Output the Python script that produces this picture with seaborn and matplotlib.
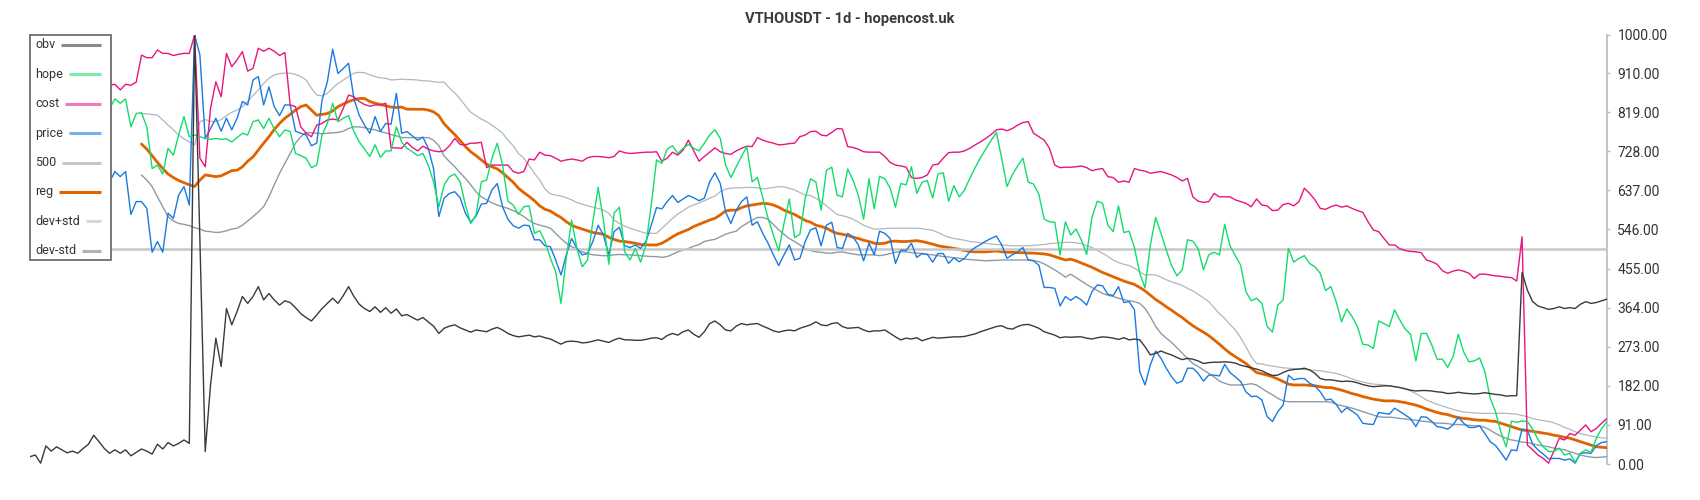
import matplotlib
matplotlib.use("Agg")
import matplotlib.pyplot as plt
import seaborn as sns
import pandas as pd
from matplotlib.lines import Line2D
from matplotlib.patches import Rectangle

sns.set_style("white")
plt.rcParams['font.family'] = ['Roboto', 'DejaVu Sans']

title = "VTHOUSDT - 1d - hopencost.uk"
yticks = [0, 91, 182, 273, 364, 455, 546, 637, 728, 819, 910, 1000]
level_500 = 500

# daily values, obv from day 0, hope/cost/price from day 15, reg/bands from day 21
obv_start = 0
line_start = 15
band_start = 21

obv = [
    17, 21, 2, 42, 30, 40, 33, 26, 30, 25, 36, 46, 67, 52, 36, 25, 33, 25, 33, 19,
    27, 35, 30, 23, 46, 35, 50, 42, 48, 56, 48, 1000, 520, 29, 184, 293, 227, 362, 324, 355,
    390, 374, 390, 413, 382, 397, 382, 370, 380,
    376, 364, 350, 341, 333, 347, 362, 374, 386, 374, 392, 413, 390, 372, 362, 355, 366, 353, 364, 351,
    361, 345, 348, 341, 335, 341, 331, 321, 304, 316, 321, 324, 317, 312, 307, 312, 310, 308, 314, 318,
    312, 304, 299, 296, 298, 300, 296, 298, 294,
    291, 285, 279, 285, 286, 285, 282, 283, 286, 289, 286, 283, 289, 293, 289, 289, 288, 288, 290, 293,
    294, 290, 299, 304, 300, 308, 312, 302, 295, 308, 327, 333, 324, 312, 310, 321, 327, 324, 326, 327,
    321, 316, 310, 307, 310, 312, 310, 316, 320,
    324, 331, 324, 322, 327, 329, 320, 316, 317, 318, 312, 308, 310, 310, 312, 304, 296, 289, 293, 291,
    294, 287, 291, 295, 293, 294, 295, 296, 296, 297, 300, 303, 308, 312, 316, 320, 322, 316, 314, 320,
    324, 325, 321, 316, 308, 304, 300, 294, 296,
    295, 296, 296, 293, 291, 294, 296, 295, 293, 290, 294, 289, 291, 289, 273, 254, 258, 263, 258, 254,
    248, 243, 246, 244, 240, 234, 236, 237, 237, 238, 237, 235, 230, 227, 224, 221, 217, 211, 206, 207,
    213, 218, 220, 221, 223, 219, 211, 199, 196,
    196, 194, 192, 193, 192, 189, 185, 182, 180, 181, 182, 182, 180, 178, 175, 172, 170, 171, 171, 170,
    168, 167, 164, 165, 167, 165, 164, 163, 164, 166, 164, 162, 161, 158, 159, 159, 446, 405, 378, 368,
    364, 360, 362, 366, 362, 364, 362, 372, 378, 374, 376, 380, 384,
]

hope = [
    828, 850, 840, 850, 785, 816, 818, 785, 688, 696, 675, 735, 719, 766, 809, 762, 766, 762, 758, 756,
    758, 756, 757, 750, 760, 770, 766, 797, 801, 781, 805, 780, 762, 778,
    774, 723, 718, 712, 690, 696, 766, 793, 840, 797, 805, 811, 774, 750, 733, 716, 743, 714, 729, 729,
    785, 749, 735, 727, 718, 723, 696, 657, 599, 650, 669, 675, 657, 603, 560, 580, 657, 661, 712, 747,
    696, 612, 603, 581, 599, 601, 537, 543, 518,
    479, 448, 374, 479, 568, 502, 459, 475, 564, 644, 568, 465, 584, 598, 494, 475, 502, 470, 510, 603,
    708, 700, 733, 741, 723, 735, 744, 735, 729, 747, 766, 778, 758, 696, 667, 692, 716, 739, 657, 667,
    619, 572, 533, 496, 560, 617, 527, 535, 619,
    664, 657, 591, 684, 691, 626, 622, 687, 661, 626, 570, 664, 594, 670, 664, 642, 598, 653, 650, 692,
    630, 656, 660, 619, 675, 678, 612, 648, 622, 638, 665, 690, 713, 733, 753, 772, 712, 646, 673, 694,
    712, 656, 652, 628, 570, 564, 563, 487, 564,
    533, 547, 522, 488, 574, 612, 607, 556, 541, 601, 539, 542, 504, 444, 410, 510, 574, 537, 498, 462,
    438, 452, 522, 519, 501, 452, 487, 493, 487, 558, 508, 485, 463, 401, 380, 386, 374, 320, 307, 370,
    382, 502, 470, 479, 485, 467, 459, 444, 404,
    413, 378, 331, 361, 343, 320, 279, 277, 269, 333, 327, 320, 359, 335, 314, 302, 240, 304, 304, 277,
    244, 244, 225, 250, 302, 261, 238, 240, 247, 215, 153, 122, 75, 40, 100, 97, 100, 99, 81, 57,
    40, 29, 29, 37, 21, 25, 4, 25, 33, 27, 60, 83, 99,
]

cost = [
    882, 884, 871, 884, 882, 889, 952, 946, 946, 964, 956, 956, 951, 954, 956, 956, 999, 712, 692, 828,
    890, 855, 956, 925, 941, 960, 915, 921, 968, 961, 968, 961, 951, 958,
    836, 832, 785, 770, 762, 789, 793, 801, 803, 801, 828, 859, 855, 844, 837, 833, 836, 836, 840, 736,
    736, 735, 749, 737, 729, 740, 733, 729, 727, 729, 741, 758, 744, 743, 747, 747, 749, 690, 696, 696,
    696, 696, 681, 677, 681, 710, 708, 726, 719,
    718, 712, 705, 708, 710, 708, 705, 713, 716, 716, 715, 713, 716, 729, 725, 723, 724, 725, 726, 726,
    727, 705, 712, 726, 719, 731, 754, 729, 705, 716, 726, 736, 727, 723, 721, 729, 735, 740, 739, 760,
    754, 750, 747, 743, 744, 746, 747, 762, 766,
    774, 775, 766, 764, 772, 781, 780, 739, 737, 733, 727, 726, 726, 726, 716, 702, 696, 694, 691, 667,
    665, 667, 673, 696, 698, 712, 725, 726, 726, 729, 735, 743, 750, 758, 767, 778, 780, 776, 781, 789,
    795, 797, 770, 762, 754, 735, 696, 690, 691,
    691, 692, 694, 690, 683, 686, 688, 669, 667, 656, 659, 656, 688, 684, 682, 677, 679, 681, 677, 673,
    667, 659, 665, 622, 612, 609, 611, 630, 622, 622, 622, 615, 611, 607, 599, 617, 603, 601, 590, 591,
    604, 607, 601, 611, 642, 630, 615, 595, 593,
    599, 603, 598, 601, 595, 590, 586, 564, 545, 541, 525, 510, 510, 501, 497, 495, 494, 492, 475, 471,
    465, 450, 444, 449, 452, 449, 444, 432, 442, 442, 440, 438, 437, 435, 434, 426, 529, 44, 33, 21,
    13, 2, 30, 60, 56, 71, 67, 79, 91, 75, 83, 95, 106,
]

price = [
    657, 681, 669, 681, 581, 611, 611, 595, 493, 518, 493, 584, 572, 626, 646, 603, 999, 952, 758, 781,
    805, 775, 805, 778, 805, 844, 836, 894, 902, 836, 878, 832, 811, 836,
    836, 775, 770, 766, 741, 747, 847, 890, 966, 909, 921, 933, 851, 812, 789, 770, 809, 774, 793, 791,
    863, 770, 774, 764, 754, 761, 735, 688, 576, 619, 630, 634, 620, 584, 563, 577, 605, 607, 638, 653,
    599, 570, 555, 549, 556, 555, 522, 522, 508,
    506, 475, 440, 487, 525, 502, 487, 490, 518, 556, 533, 487, 541, 551, 508, 504, 510, 502, 518, 556,
    597, 594, 611, 625, 609, 617, 625, 620, 613, 619, 657, 678, 653, 587, 560, 591, 611, 622, 556, 564,
    537, 514, 487, 462, 487, 510, 475, 479, 518,
    545, 550, 508, 556, 563, 504, 502, 537, 529, 510, 473, 514, 487, 542, 537, 525, 467, 498, 497, 514,
    481, 490, 488, 470, 490, 490, 467, 480, 471, 479, 494, 504, 511, 519, 525, 531, 510, 479, 487, 494,
    504, 475, 473, 463, 411, 411, 409, 368, 390,
    381, 390, 382, 370, 401, 417, 415, 395, 392, 413, 376, 378, 359, 215, 184, 231, 263, 246, 223, 203,
    188, 193, 223, 223, 211, 193, 207, 207, 205, 232, 213, 203, 192, 168, 157, 158, 149, 110, 99, 122,
    137, 207, 196, 199, 199, 188, 182, 168, 149,
    151, 139, 120, 131, 123, 114, 95, 93, 92, 120, 118, 116, 130, 122, 114, 106, 87, 110, 109, 99,
    87, 85, 81, 91, 109, 95, 85, 85, 89, 71, 52, 43, 27, 9, 33, 31, 81, 79, 46, 33,
    23, 12, 13, 13, 9, 12, 2, 25, 26, 25, 43, 50, 52,
]

reg = [
    745, 733, 718, 702, 688, 675, 667, 660, 655, 650, 646, 661, 673, 671, 669, 671, 677, 683, 684, 692,
    705, 715, 731, 747, 762, 779, 793, 805,
    814, 824, 832, 836, 824, 812, 814, 816, 822, 832, 838, 844, 848, 851, 851, 844, 840, 837, 834, 831,
    830, 831, 826, 826, 826, 826, 824, 820, 811, 792, 779, 767, 753, 739, 727, 718, 708, 698, 692, 687,
    678, 667, 656, 642, 632, 623, 613, 601, 593,
    589, 581, 574, 564, 556, 551, 547, 543, 539, 537, 535, 528, 523, 519, 518, 516, 514, 511, 510, 510,
    510, 514, 521, 529, 536, 541, 546, 553, 558, 563, 568, 572, 580, 589, 591, 591, 597, 601, 603, 605,
    607, 606, 603, 598, 591, 586, 581, 574, 567,
    563, 556, 553, 549, 542, 537, 535, 532, 528, 525, 521, 518, 514, 513, 514, 518, 519, 518, 518, 519,
    520, 518, 515, 512, 508, 506, 504, 502, 500, 497, 495, 494, 494, 494, 495, 496, 494, 493, 493, 492,
    492, 491, 491, 490, 489, 487, 483, 479, 475,
    477, 473, 468, 463, 458, 452, 446, 441, 436, 431, 426, 422, 418, 411, 403, 393, 383, 375, 366, 358,
    349, 341, 331, 322, 314, 307, 299, 289, 279, 268, 258, 250, 242, 234, 223, 213, 210, 207, 203, 198,
    192, 186, 184, 184, 184, 183, 182, 180, 178,
    178, 175, 172, 168, 164, 161, 157, 154, 151, 149, 147, 147, 147, 145, 143, 140, 137, 133, 128, 124,
    120, 117, 115, 111, 108, 106, 105, 103, 102, 102, 100, 99, 95, 91, 87, 83, 79, 78, 76, 74,
    72, 70, 67, 65, 62, 60, 56, 52, 48, 44, 40, 39, 38,
]

dev_plus = [
    816, 815, 814, 812, 801, 789, 778, 766, 757, 750, 743, 797, 802, 798, 797, 802, 811, 819, 824, 832,
    844, 858, 871, 886, 898, 906, 909, 910,
    910, 907, 902, 894, 875, 859, 857, 863, 875, 886, 894, 902, 910, 912, 911, 906, 902, 899, 898, 894,
    895, 896, 895, 895, 894, 892, 892, 890, 889, 889, 875, 864, 850, 834, 819, 811, 803, 797, 789, 780,
    770, 754, 741, 723, 712, 695, 677, 661, 640,
    629, 626, 624, 620, 615, 609, 605, 601, 598, 595, 591, 584, 568, 560, 554, 549, 545, 541, 537, 537,
    537, 549, 560, 572, 582, 590, 598, 603, 608, 613, 619, 624, 634, 640, 642, 643, 643, 644, 644, 643,
    640, 642, 644, 646, 645, 642, 638, 632, 626,
    625, 619, 611, 601, 591, 581, 578, 575, 570, 563, 556, 551, 547, 547, 548, 549, 549, 549, 549, 549,
    549, 548, 546, 544, 539, 533, 528, 525, 523, 521, 518, 517, 515, 514, 512, 511, 510, 509, 508, 508,
    508, 508, 509, 510, 511, 513, 514, 515, 516,
    516, 515, 513, 508, 504, 497, 491, 483, 475, 469, 465, 462, 456, 448, 440, 441, 440, 435, 429, 424,
    420, 416, 409, 403, 395, 387, 378, 364, 350, 339, 325, 312, 294, 273, 250, 234, 233, 230, 228, 226,
    224, 223, 222, 221, 220, 219, 218, 217, 215,
    213, 211, 207, 203, 198, 194, 191, 188, 186, 185, 184, 182, 180, 178, 175, 170, 164, 157, 149, 144,
    139, 135, 131, 127, 124, 121, 120, 119, 118, 118, 118, 118, 118, 118, 117, 116, 113, 110, 106, 103,
    101, 99, 96, 91, 85, 81, 75, 71, 68, 65, 63, 61, 60,
]

dev_minus = [
    673, 661, 646, 622, 599, 576, 566, 560, 558, 555, 550, 547, 542, 541, 539, 540, 543, 547, 549, 556,
    566, 576, 587, 599, 622, 650, 677, 700,
    723, 747, 762, 772, 771, 770, 769, 770, 771, 772, 775, 781, 785, 785, 783, 780, 778, 774, 771, 767,
    764, 760, 760, 760, 760, 760, 760, 754, 741, 717, 704, 692, 678, 665, 650, 634, 622, 615, 608, 603,
    599, 595, 590, 584, 576, 567, 560, 556, 553,
    549, 537, 525, 514, 506, 501, 494, 490, 487, 486, 485, 485, 487, 488, 487, 487, 486, 485, 484, 483,
    483, 481, 483, 488, 494, 498, 502, 507, 511, 518, 521, 523, 529, 535, 539, 542, 553, 560, 568, 574,
    574, 570, 558, 545, 535, 525, 518, 510, 501,
    497, 494, 493, 491, 491, 493, 494, 491, 489, 487, 487, 487, 487, 485, 487, 490, 493, 494, 494, 492,
    491, 490, 488, 487, 485, 483, 482, 480, 479, 477, 476, 475, 474, 473, 474, 474, 475, 475, 475, 475,
    475, 475, 474, 471, 466, 459, 452, 444, 435,
    442, 434, 426, 418, 411, 404, 397, 393, 390, 386, 383, 380, 378, 374, 362, 343, 320, 304, 293, 283,
    271, 258, 246, 234, 227, 219, 211, 203, 193, 188, 184, 184, 184, 185, 187, 184, 176, 168, 161, 153,
    147, 145, 145, 145, 145, 145, 145, 145, 145,
    144, 139, 136, 133, 130, 126, 122, 118, 114, 110, 109, 109, 108, 106, 105, 103, 102, 100, 99, 97,
    95, 95, 94, 92, 92, 91, 90, 89, 89, 85, 79, 71, 65, 60, 56, 54, 51, 50, 47, 44,
    42, 40, 37, 35, 33, 29, 25, 21, 18, 16, 15, 16, 17,
]


def frame(values, start):
    return pd.DataFrame({"day": range(start, start + len(values)), "value": values})


series = [
    # name, values, start, plot colour, legend colour, width, zorder
    ("obv", obv, obv_start, "#3a3a3a", "#8a8a8a", 1.0, 9),
    ("hope", hope, line_start, "#12dc6c", "#7fe9a8", 1.0, 8),
    ("cost", cost, line_start, "#e6157f", "#f07bb8", 1.0, 7),
    ("price", price, line_start, "#1a7ae0", "#74b2ee", 1.0, 6),
    ("500", None, 0, "#c8c8c8", "#c6c6c6", 1.8, 5),
    ("reg", reg, band_start, "#df6400", "#df6400", 2.0, 4),
    ("dev+std", dev_plus, band_start, "#aeb8bf", "#d2dade", 0.9, 3),
    ("dev-std", dev_minus, band_start, "#8e9ba4", "#aab5bc", 1.0, 3),
]

fig = plt.figure(figsize=(17, 5), dpi=100)
ax = fig.add_axes([30 / 1700, 36 / 500, 1577 / 1700, 429.5 / 500])

for name, values, start, color, _, lw, z in series:
    if values is None:
        ax.axhline(level_500, color=color, lw=lw, zorder=z)
        continue
    sns.lineplot(data=frame(values, start), x="day", y="value", ax=ax,
                 color=color, lw=lw, zorder=z, errorbar=None)

ax.set_xlim(0, len(obv) - 1)
ax.set_ylim(0, 1000)
ax.set_xlabel("")
ax.set_ylabel("")
ax.set_xticks([])
ax.yaxis.tick_right()
ax.set_yticks(yticks)
ax.set_yticklabels([f"{v:.2f}" for v in yticks])
ax.tick_params(axis="y", length=2.5, width=1, color="#b0bec5", pad=5,
               labelsize=10, labelcolor="#333333")
for side in ["top", "left", "bottom"]:
    ax.spines[side].set_visible(False)
ax.spines["right"].set_color("#b0bec5")
ax.spines["right"].set_linewidth(1.2)

fig.text(850 / 1700, 1 - 19 / 500, title, ha="center", va="center",
         fontsize=10.6, fontweight="bold", color="#3a3a3a")

# legend box on the left, label first then the line sample
fig.add_artist(Rectangle((30 / 1700, 1 - 260 / 500), 81 / 1700, 225 / 500,
                         transform=fig.transFigure, facecolor="white",
                         edgecolor="#6e6e6e", lw=1.3, zorder=10))
renderer = fig.canvas.get_renderer()
for i, (name, _, _, _, lcolor, _, _) in enumerate(series):
    yc = 1 - (45 + i * 29.4) / 500
    t = fig.text(35 / 1700, yc, name, ha="left", va="center", fontsize=9,
                 color="#333333", zorder=11)
    x1 = t.get_window_extent(renderer).x1 + 6
    fig.add_artist(Line2D([x1 / 1700, 101 / 1700], [yc, yc], transform=fig.transFigure,
                          color=lcolor, lw=2.2, zorder=11, solid_capstyle="butt"))

fig.savefig("out.png", dpi=100)
